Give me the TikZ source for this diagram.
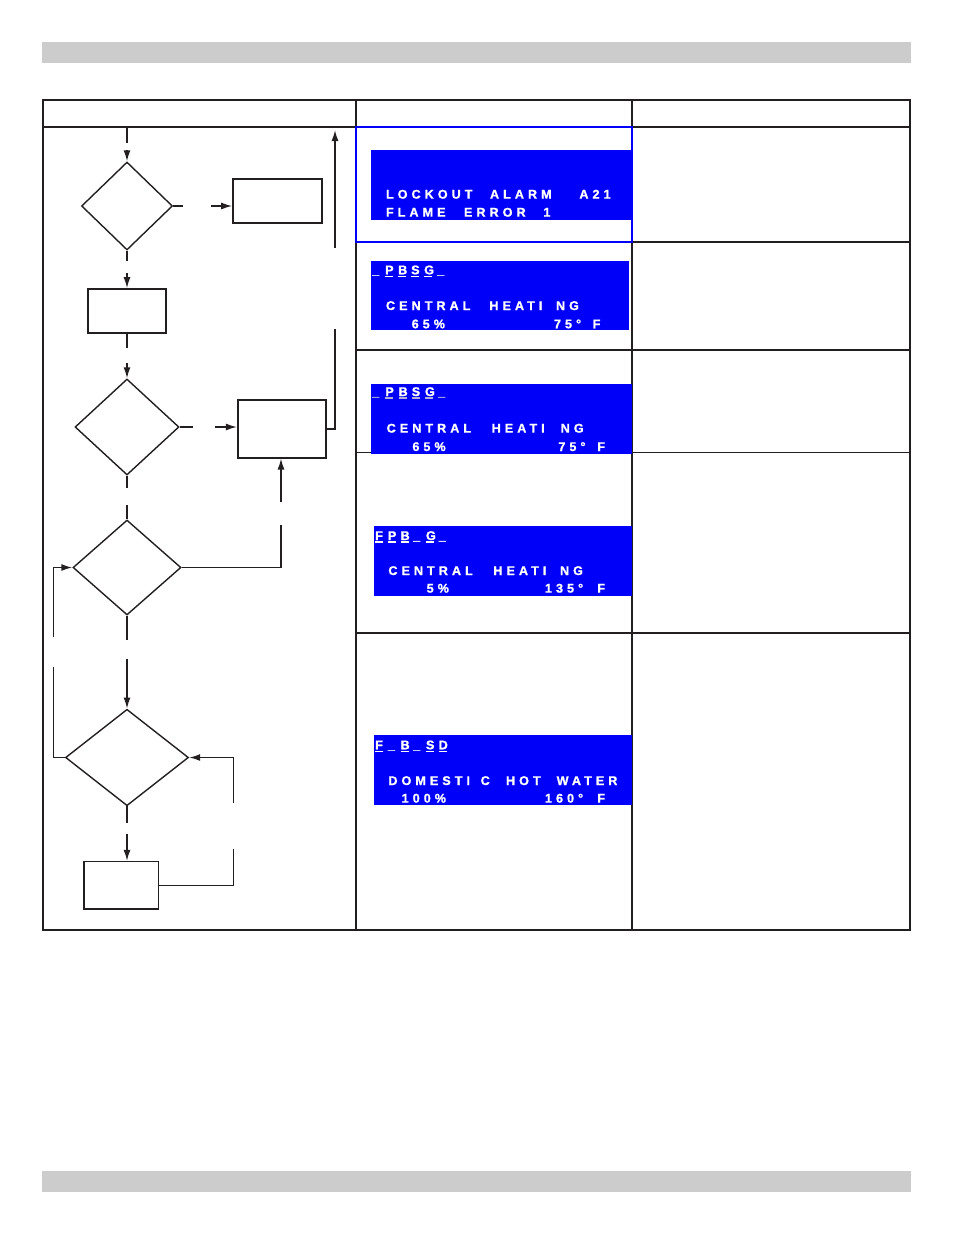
\documentclass[tikz,border=0pt]{standalone}
\usepackage{fontspec}
\usetikzlibrary{shapes.geometric,arrows.meta}
\newfontfamily\lcdfont{Liberation Sans}[UprightFont={* Bold},BoldFont={* Bold},LetterSpace=32,FakeBold=1.2]
\definecolor{barg}{RGB}{204,204,204}
\definecolor{ink}{RGB}{35,31,32}
\definecolor{lcdblue}{RGB}{0,0,250}
\definecolor{ulgray}{RGB}{175,175,215}
\newlength\cw
\setlength\cw{13pt}
\newcommand\lcdw[2]{\makebox[0pt][l]{\hspace*{#1pt}#2}}
\newcommand\cel[2][white]{\makebox[\cw][l]{\textcolor{#1}{#2}}}
\newcommand\ucel[2][white]{\makebox[\cw][l]{\textcolor{#1}{\rlap{\rule[-2.6pt]{8pt}{1.3pt}}}#2}}
\tikzset{
  conn/.style={draw=ink, line width=1.5pt},
  arr/.style={conn, -{Latex[length=11pt,width=7pt]}},
  dia/.style={diamond, draw=ink, line width=1.4pt, inner sep=0pt, aspect=1},
  boxn/.style={rectangle, draw=ink, line width=1.6pt, inner sep=0pt},
  lcd/.style={fill=lcdblue, inner sep=0pt, anchor=north west},
  lcdtxt/.style={text=white, font=\lcdfont\fontsize{12.6}{12.6}\selectfont, inner sep=0pt, anchor=base west},
  thickrule/.style={draw=ink, line width=2.2pt},
  thinrule/.style={draw=ink, line width=1.4pt}
}
\begin{document}
\begin{tikzpicture}[x=1pt,y=-1pt]
\useasboundingbox (0,0) rectangle (954,1235);
% grey bars
\fill[barg] (42,42) rectangle (911,62.7);
\fill[barg] (42,1171) rectangle (911,1191.7);
% table
\draw[thickrule] (42.7,100) rectangle (910.3,930);
\draw[thickrule] (42.7,127) -- (910.3,127);
\draw[thickrule] (356,100) -- (356,930);
\draw[thickrule] (632,100) -- (632,930);
\draw[thinrule] (632,242) -- (910.3,242);
\draw[thickrule] (356,350) -- (910.3,350);
\draw[thinrule] (356,452.3) -- (910.3,452.3);
\draw[thickrule] (356,633) -- (910.3,633);
% LCD boxes
\node[lcd, minimum width=261pt, minimum height=70pt] (lcd1) at (371,149.5) {};
\node[lcd, minimum width=257.7pt, minimum height=69pt] (lcd2) at (371,261) {};
\node[lcd, minimum width=261pt, minimum height=70pt] (lcd3) at (371,383.3) {};
\node[lcd, minimum width=258.7pt, minimum height=70pt] (lcd4) at (373.3,526) {};
\node[lcd, minimum width=258.7pt, minimum height=70pt] (lcd5) at (373.3,735) {};
\draw[draw=lcdblue, line width=1.5pt] (356,127) rectangle (632,242);
% LCD texts
\node[lcdtxt] (t1a) at (385.3,198.6) {\lcdw{0}{LOCKOUT}\lcdw{104}{ALARM}\lcdw{193.4}{A21}};
\node[lcdtxt] (t1b) at (385.3,216.6) {\lcdw{0}{FLAME}\lcdw{78}{ERROR}\lcdw{157.4}{1}};
\node[lcdtxt] (t2a) at (372,274.3) {\setlength\cw{13pt}\cel{\_}\ucel{P}\ucel{B}\ucel{S}\ucel{G}\cel{\_}};
\node[lcdtxt] (t2b) at (385.3,310) {\lcdw{0}{CENTRAL}\lcdw{103.4}{HEATI}\lcdw{170}{NG}};
\node[lcdtxt] (t2c) at (411,328.3) {\lcdw{0}{65\%}\lcdw{142.3}{75°}\lcdw{181}{F}};
\node[lcdtxt] (t3a) at (372,396) {\setlength\cw{13.2pt}\cel[ulgray]{\_}\ucel[ulgray]{P}\ucel[ulgray]{B}\ucel[ulgray]{S}\ucel[ulgray]{G}\cel[ulgray]{\_}};
\node[lcdtxt] (t3b) at (386,432.6) {\lcdw{0}{CENTRAL}\lcdw{105}{HEATI}\lcdw{174}{NG}};
\node[lcdtxt] (t3c) at (411.7,451) {\lcdw{0}{65\%}\lcdw{146}{75°}\lcdw{185}{F}};
\node[lcdtxt] (t4a) at (375,540) {\setlength\cw{12.7pt}\ucel{F}\ucel{P}\ucel{B}\cel{\_}\ucel{G}\cel{\_}};
\node[lcdtxt] (t4b) at (387.7,575) {\lcdw{0}{CENTRAL}\lcdw{105}{HEATI}\lcdw{171.6}{NG}};
\node[lcdtxt] (t4c) at (426,592.6) {\lcdw{0}{5\%}\lcdw{118.3}{135°}\lcdw{170.7}{F}};
\node[lcdtxt] (t5a) at (375,749.3) {\setlength\cw{12.7pt}\ucel{F}\cel{\_}\ucel{B}\cel{\_}\ucel{S}\ucel{D}};
\node[lcdtxt] (t5b) at (387.7,785) {\lcdw{0}{DOMESTI}\lcdw{92.3}{C}\lcdw{117.6}{HOT}\lcdw{168.3}{WATER}};
\node[lcdtxt] (t5c) at (401,802.6) {\lcdw{0}{100\%}\lcdw{143.3}{160°}\lcdw{195.7}{F}};
% flowchart shapes
\node[dia, minimum width=91pt, minimum height=88pt] (d1) at (127,206) {};
\node[boxn, minimum width=89pt, minimum height=44pt] (bA) at (277.5,201) {};
\node[boxn, minimum width=78pt, minimum height=44pt] (bB) at (127,311) {};
\node[dia, minimum width=104pt, minimum height=96pt] (d2) at (127,427) {};
\node[boxn, minimum width=88pt, minimum height=57.7pt] (bC) at (281.7,428.85) {};
\node[dia, minimum width=108pt, minimum height=95pt] (d3) at (127,567.5) {};
\node[dia, minimum width=123pt, minimum height=96.5pt] (d4) at (127,757.5) {};
\node[boxn, minimum width=74.6pt, minimum height=47.3pt] (bD) at (121,885.3) {};
% connector points
\coordinate (c1a) at (127,127);
\coordinate (c1b) at (127,143);
\coordinate (c1c) at (127,150);
\coordinate (c2a) at (183,206);
\coordinate (c2b) at (211,206);
\coordinate (c3a) at (127,261);
\coordinate (c3b) at (127,273);
\coordinate (c4a) at (127,348);
\coordinate (c4b) at (127,363);
\coordinate (c5a) at (193,427);
\coordinate (c5b) at (215,427);
\coordinate (c6a) at (335,329);
\coordinate (c6b) at (335,248);
\coordinate (c6c) at (335,130);
\coordinate (c7a) at (127,488);
\coordinate (c7b) at (127,505);
\coordinate (c8a) at (281,525);
\coordinate (c8b) at (281,502);
\coordinate (c9a) at (53.3,637);
\coordinate (c9b) at (53.3,667);
\coordinate (c10a) at (127,640);
\coordinate (c10b) at (127,659);
\coordinate (c11a) at (127,823);
\coordinate (c11b) at (127,834);
\coordinate (c12a) at (233.3,849.3);
\coordinate (c12b) at (233.3,802.7);
% connectors
\draw[conn] (c1a) -- (c1b);
\draw[arr] (c1c) -- (d1.north);
\draw[conn] (d1.east) -- (c2a);
\draw[arr] (c2b) -- (c2b -| bA.west);
\draw[conn] (d1.south) -- (c3a);
\draw[arr] (c3b) -- (bB.north);
\draw[conn] (bB.south) -- (c4a);
\draw[arr] (c4b) -- (d2.north);
\draw[conn] (d2.east) -- (c5a);
\draw[arr] (c5b) -- (c5b -| bC.west);
\draw[conn] (bC.east) -| (c6a);
\draw[arr] (c6b) -- (c6c);
\draw[conn] (d2.south) -- (c7a);
\draw[conn] (c7b) -- (d3.north);
\draw[conn] (d3.east) -| (c8a);
\draw[arr] (c8b) -- (c8b |- bC.south);
\draw[arr] (c9a) |- (d3.west);
\draw[conn] (d4.west) -| (c9b);
\draw[conn] (d3.south) -- (c10a);
\draw[arr] (c10b) -- (d4.north);
\draw[conn] (d4.south) -- (c11a);
\draw[arr] (c11b) -- (c11b |- bD.north);
\draw[conn] (bD.east) -| (c12a);
\draw[arr] (c12b) |- (d4.east);
\end{tikzpicture}
\end{document}
